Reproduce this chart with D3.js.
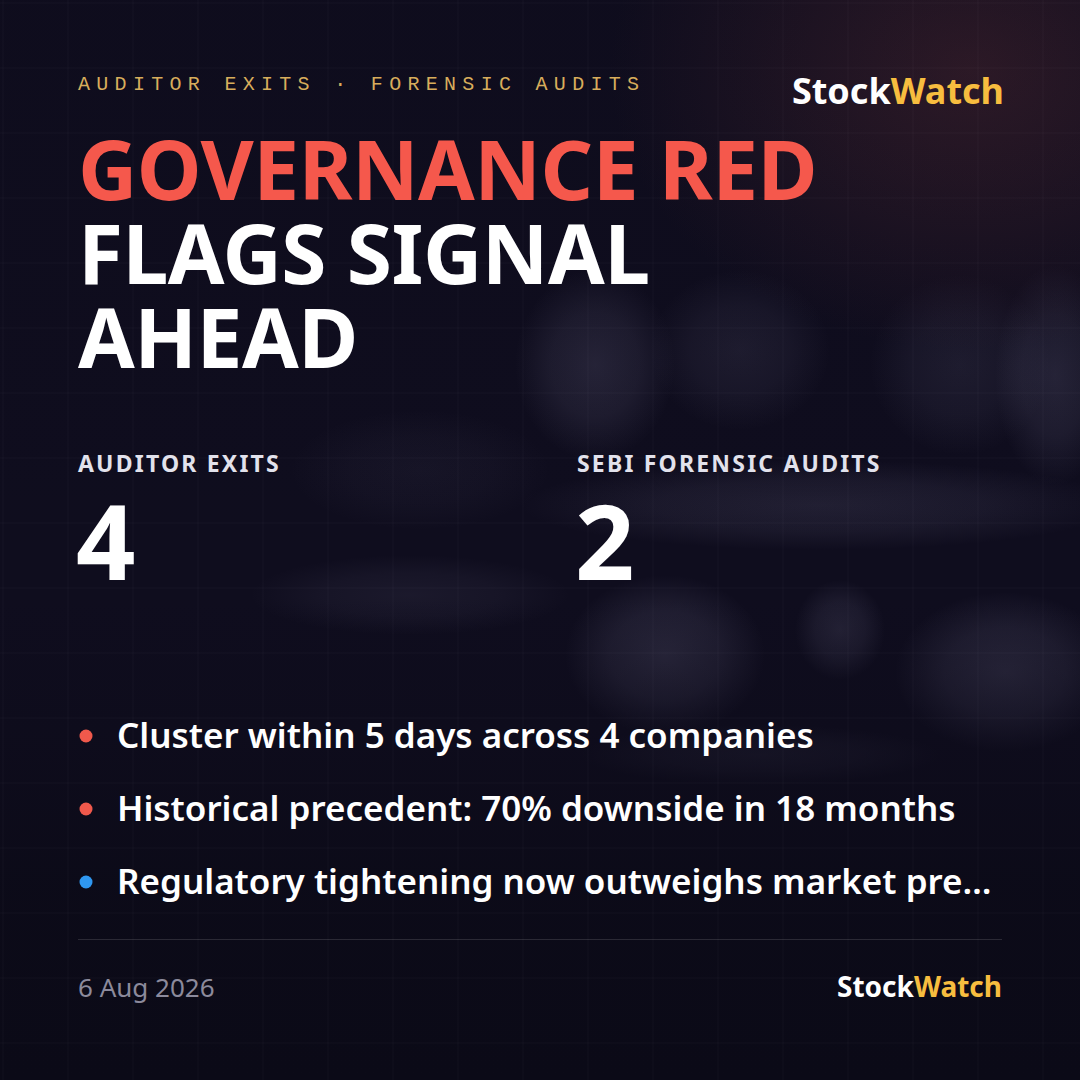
<!DOCTYPE html>
<html>
<head>
<meta charset="utf-8">
<script src="https://cdn.jsdelivr.net/npm/d3@7"></script>
<style>
  html, body { margin: 0; padding: 0; background: #0d0b1a; }
  svg { display: block; }
</style>
</head>
<body>
<div id="card"></div>
<script>
// card content
var tagLine = "AUDITOR EXITS \u00b7 FORENSIC AUDITS";
var titleLines = ["GOVERNANCE RED", "FLAGS SIGNAL", "AHEAD"];
var titleColors = ["#f5584c", "#ffffff", "#ffffff"];
var statLabels = ["AUDITOR EXITS", "SEBI FORENSIC AUDITS"];
var statValues = [4, 2];
var bullets = [
  "Cluster within 5 days across 4 companies",
  "Historical precedent: 70% downside in 18 months",
  "Regulatory tightening now outweighs market pre\u2026"
];
var bulletColors = ["#f0594c", "#f0594c", "#2f97f0"];
var dateText = "6 Aug 2026";
var brand = ["Stock", "Watch"];

(function() {
    var W = 1080, H = 1080;
    var svg = d3.select("#card").append("svg")
        .attr("width", W)
        .attr("height", H);

    var defs = svg.append("defs");

    // soft blob used for the out-of-focus backdrop
    var soft = defs.append("radialGradient").attr("id", "soft")
        .attr("cx", 0.5).attr("cy", 0.5).attr("r", 0.5);
    soft.append("stop").attr("offset", "0%").attr("stop-color", "#8a86a8").attr("stop-opacity", 0.22);
    soft.append("stop").attr("offset", "55%").attr("stop-color", "#8a86a8").attr("stop-opacity", 0.14);
    soft.append("stop").attr("offset", "100%").attr("stop-color", "#8a86a8").attr("stop-opacity", 0);

    var glow = defs.append("radialGradient").attr("id", "glow")
        .attr("cx", 0.5).attr("cy", 0.5).attr("r", 0.5);
    glow.append("stop").attr("offset", "0%").attr("stop-color", "#4a2630").attr("stop-opacity", 0.6);
    glow.append("stop").attr("offset", "100%").attr("stop-color", "#4a2630").attr("stop-opacity", 0);

    var vign = defs.append("linearGradient").attr("id", "vign")
        .attr("x1", 0).attr("y1", 0).attr("x2", 0).attr("y2", 1);
    vign.append("stop").attr("offset", "0%").attr("stop-color", "#0d0b1a").attr("stop-opacity", 0.2);
    vign.append("stop").attr("offset", "55%").attr("stop-color", "#0d0b1a").attr("stop-opacity", 0);
    vign.append("stop").attr("offset", "82%").attr("stop-color", "#0b0a17").attr("stop-opacity", 0.8);
    vign.append("stop").attr("offset", "100%").attr("stop-color", "#0b0a17").attr("stop-opacity", 1);

    // background
    svg.append("rect").attr("width", W).attr("height", H).attr("fill", "#0f0d1e");

    // out-of-focus "trading desk" backdrop: [cx, cy, rx, ry, opacity]
    var blobs = [
        [595, 365, 80, 95, 0.9],
        [740, 350, 90, 80, 0.6],
        [960, 365, 90, 90, 0.6],
        [1055, 375, 60, 110, 0.9],
        [820, 505, 300, 45, 0.7],
        [665, 655, 100, 80, 1.0],
        [1005, 672, 110, 80, 1.0],
        [840, 630, 45, 50, 0.8],
        [760, 755, 180, 30, 0.5],
        [410, 595, 160, 40, 0.45],
        [420, 470, 130, 60, 0.3]
    ];
    svg.append("g").selectAll("ellipse").data(blobs).join("ellipse")
        .attr("cx", function(d) { return d[0]; })
        .attr("cy", function(d) { return d[1]; })
        .attr("rx", function(d) { return d[2]; })
        .attr("ry", function(d) { return d[3]; })
        .attr("fill", "url(#soft)")
        .attr("opacity", function(d) { return d[4]; });

    svg.append("ellipse").attr("cx", 970).attr("cy", 70)
        .attr("rx", 360).attr("ry", 280).attr("fill", "url(#glow)");

    svg.append("rect").attr("width", W).attr("height", H).attr("fill", "url(#vign)");

    // faint grid
    var gridX = d3.range(3, W, 65);
    var grid = svg.append("g").attr("stroke", "#ffffff").attr("stroke-opacity", 0.03);
    grid.selectAll("line.v").data(gridX).join("line").attr("class", "v")
        .attr("x1", function(d) { return d; }).attr("x2", function(d) { return d; })
        .attr("y1", 0).attr("y2", H);
    grid.selectAll("line.h").data(gridX).join("line").attr("class", "h")
        .attr("y1", function(d) { return d; }).attr("y2", function(d) { return d; })
        .attr("x1", 0).attr("x2", W);

    var left = 78, right = 1002;
    var sans = "'Noto Sans', 'Open Sans', sans-serif";

    // tag line
    svg.append("text")
        .attr("x", left).attr("y", 90)
        .attr("font-family", "'Courier New', Courier, 'Nimbus Mono PS', 'FreeMono', 'Liberation Mono', monospace")
        .attr("font-size", 20)
        .attr("letter-spacing", 6.3)
        .attr("fill", "#d8ad5c")
        .text(tagLine);

    // brand top right
    var brandTop = svg.append("text")
        .attr("x", right + 2).attr("y", 104)
        .attr("text-anchor", "end")
        .attr("font-family", sans).attr("font-weight", 700)
        .attr("font-size", 36);
    brandTop.append("tspan").attr("fill", "#ffffff").text(brand[0]);
    brandTop.append("tspan").attr("fill", "#f7bd3f").text(brand[1]);

    // headline
    var lineY = d3.scalePoint().domain(d3.range(titleLines.length)).range([200, 368]);
    svg.selectAll("text.title").data(titleLines).join("text")
        .attr("class", "title")
        .attr("x", left)
        .attr("y", function(d, i) { return lineY(i); })
        .attr("font-family", sans).attr("font-weight", 700)
        .attr("font-size", 82)
        .attr("letter-spacing", -0.5)
        .attr("fill", function(d, i) { return titleColors[i]; })
        .text(function(d) { return d; });

    // stats
    var statX = d3.scalePoint().domain(d3.range(statLabels.length)).range([left, 577]);
    var stats = svg.selectAll("g.stat").data(statLabels).join("g")
        .attr("class", "stat")
        .attr("transform", function(d, i) { return "translate(" + statX(i) + ",0)"; });
    stats.append("text")
        .attr("y", 472)
        .attr("font-family", sans).attr("font-weight", 700)
        .attr("font-size", 23)
        .attr("letter-spacing", 2.2)
        .attr("fill", "#e2e2ec")
        .text(function(d) { return d; });
    stats.append("text")
        .attr("x", -2)
        .attr("y", 580)
        .attr("font-family", sans).attr("font-weight", 700)
        .attr("font-size", 104)
        .attr("fill", "#ffffff")
        .text(function(d, i) { return statValues[i]; });

    // bullet points
    var bulletY = d3.scalePoint().domain(d3.range(bullets.length)).range([748, 894]);
    var rows = svg.selectAll("g.bullet").data(bullets).join("g")
        .attr("class", "bullet")
        .attr("transform", function(d, i) { return "translate(0," + bulletY(i) + ")"; });
    rows.append("circle")
        .attr("cx", 86).attr("cy", -12).attr("r", 6.5)
        .attr("fill", function(d, i) { return bulletColors[i]; });
    rows.append("text")
        .attr("x", 117)
        .attr("font-family", sans).attr("font-weight", 600)
        .attr("font-size", 35)
        .attr("fill", "#ffffff")
        .text(function(d) { return d; });

    // divider + footer
    svg.append("line")
        .attr("x1", left).attr("x2", right)
        .attr("y1", 939.5).attr("y2", 939.5)
        .attr("stroke", "#ffffff").attr("stroke-opacity", 0.13);

    svg.append("text")
        .attr("x", left).attr("y", 997)
        .attr("font-family", sans).attr("font-size", 26)
        .attr("fill", "#8c8a9c")
        .text(dateText);

    var brandBottom = svg.append("text")
        .attr("x", right).attr("y", 997)
        .attr("text-anchor", "end")
        .attr("font-family", sans).attr("font-weight", 700)
        .attr("font-size", 28);
    brandBottom.append("tspan").attr("fill", "#ffffff").text(brand[0]);
    brandBottom.append("tspan").attr("fill", "#f7bd3f").text(brand[1]);
})();
</script>
</body>
</html>
